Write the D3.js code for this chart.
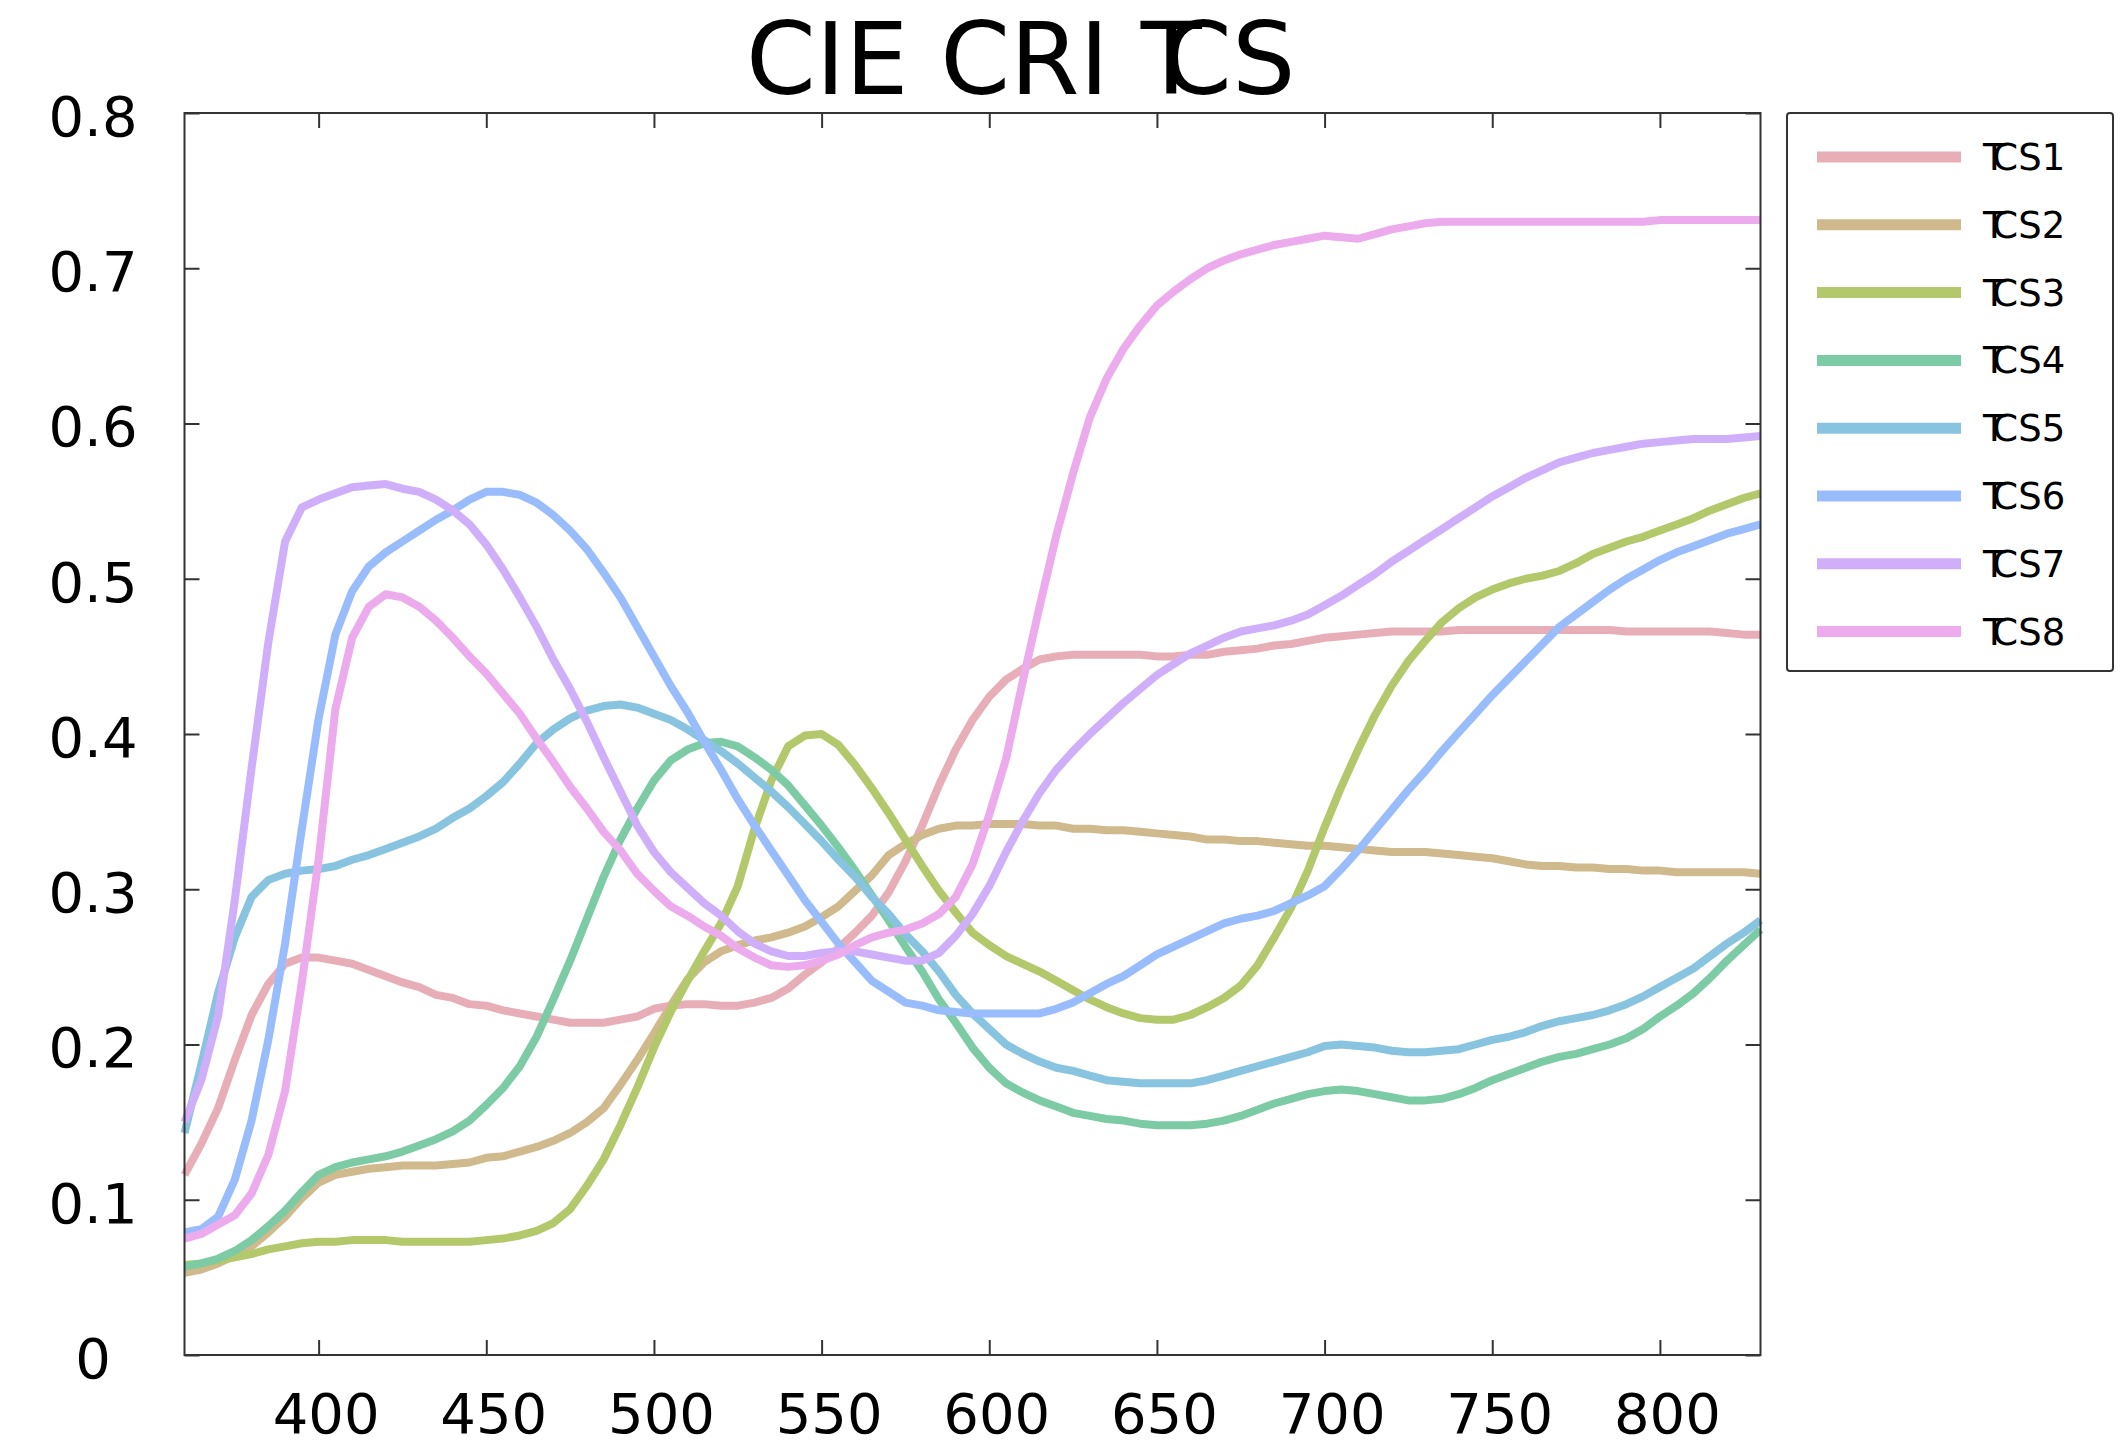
<!DOCTYPE html>
<html lang="en">
<head>
	<meta charset="UTF-8">
	<title>CIE CRI TCS</title>
	<script src="https://cdn.jsdelivr.net/npm/d3@7"></script>
	<style>
		body { margin:0; background:#fff; }
		svg { display:block; font-family:"DejaVu Sans", sans-serif; }
	</style>
</head>
<body>
<svg width="2121" height="1441"></svg>
<script>
// wavelength grid (nm), 5 nm steps
var wavelengths = d3.range(360, 831, 5);

// spectral reflectance of the test colour samples
var tcs1 = [0.116,0.136,0.159,0.190,0.219,0.239,0.252,0.256,0.256,
	0.254,0.252,0.248,0.244,0.240,0.237,0.232,0.230,0.226,0.225,
	0.222,0.220,0.218,0.216,0.214,0.214,0.214,0.216,0.218,0.223,
	0.225,0.226,0.226,0.225,0.225,0.227,0.230,0.236,0.245,0.253,
	0.262,0.272,0.283,0.298,0.318,0.341,0.367,0.390,0.409,0.424,
	0.435,0.442,0.448,0.450,0.451,0.451,0.451,0.451,0.451,0.450,
	0.450,0.451,0.451,0.453,0.454,0.455,0.457,0.458,0.460,0.462,
	0.463,0.464,0.465,0.466,0.466,0.466,0.466,0.467,0.467,0.467,
	0.467,0.467,0.467,0.467,0.467,0.467,0.467,0.466,0.466,0.466,
	0.466,0.466,0.466,0.465,0.464,0.464];
var tcs2 = [0.053,0.055,0.059,0.064,0.070,0.079,0.089,0.101,0.111,
	0.116,0.118,0.120,0.121,0.122,0.122,0.122,0.123,0.124,0.127,
	0.128,0.131,0.134,0.138,0.143,0.150,0.159,0.174,0.190,0.207,
	0.225,0.242,0.253,0.260,0.264,0.267,0.269,0.272,0.276,0.282,
	0.289,0.299,0.309,0.322,0.329,0.335,0.339,0.341,0.341,0.342,
	0.342,0.342,0.341,0.341,0.339,0.339,0.338,0.338,0.337,0.336,
	0.335,0.334,0.332,0.332,0.331,0.331,0.330,0.329,0.328,0.328,
	0.327,0.326,0.325,0.324,0.324,0.324,0.323,0.322,0.321,0.320,
	0.318,0.316,0.315,0.315,0.314,0.314,0.313,0.313,0.312,0.312,
	0.311,0.311,0.311,0.311,0.311,0.310];
var tcs3 = [0.058,0.059,0.061,0.063,0.065,0.068,0.070,0.072,0.073,
	0.073,0.074,0.074,0.074,0.073,0.073,0.073,0.073,0.073,0.074,
	0.075,0.077,0.080,0.085,0.094,0.109,0.126,0.148,0.172,0.198,
	0.221,0.241,0.260,0.278,0.302,0.339,0.370,0.392,0.399,0.400,
	0.393,0.380,0.365,0.349,0.332,0.315,0.299,0.285,0.272,0.264,
	0.257,0.252,0.247,0.241,0.235,0.229,0.224,0.220,0.217,0.216,
	0.216,0.219,0.224,0.230,0.238,0.251,0.269,0.288,0.312,0.340,
	0.366,0.390,0.412,0.431,0.447,0.460,0.472,0.481,0.488,0.493,
	0.497,0.500,0.502,0.505,0.510,0.516,0.520,0.524,0.527,0.531,
	0.535,0.539,0.544,0.548,0.552,0.555];
var tcs4 = [0.057,0.059,0.062,0.067,0.074,0.083,0.093,0.105,0.116,
	0.121,0.124,0.126,0.128,0.131,0.135,0.139,0.144,0.151,0.161,
	0.172,0.186,0.205,0.229,0.254,0.281,0.308,0.332,0.352,0.370,
	0.383,0.390,0.394,0.395,0.392,0.385,0.377,0.367,0.354,0.341,
	0.327,0.312,0.296,0.280,0.263,0.247,0.229,0.214,0.198,0.185,
	0.175,0.169,0.164,0.160,0.156,0.154,0.152,0.151,0.149,0.148,
	0.148,0.148,0.149,0.151,0.154,0.158,0.162,0.165,0.168,0.170,
	0.171,0.170,0.168,0.166,0.164,0.164,0.165,0.168,0.172,0.177,
	0.181,0.185,0.189,0.192,0.194,0.197,0.200,0.204,0.210,0.218,
	0.225,0.233,0.243,0.254,0.264,0.274];
var tcs5 = [0.143,0.187,0.233,0.269,0.295,0.306,0.310,0.312,0.313,
	0.315,0.319,0.322,0.326,0.330,0.334,0.339,0.346,0.352,0.360,
	0.369,0.381,0.394,0.403,0.410,0.415,0.418,0.419,0.417,0.413,
	0.409,0.403,0.396,0.389,0.381,0.372,0.363,0.353,0.342,0.331,
	0.319,0.308,0.295,0.284,0.271,0.260,0.247,0.232,0.220,0.210,
	0.200,0.194,0.189,0.185,0.183,0.180,0.177,0.176,0.175,0.175,
	0.175,0.175,0.177,0.180,0.183,0.186,0.189,0.192,0.195,0.199,
	0.200,0.199,0.198,0.196,0.195,0.195,0.196,0.197,0.200,0.203,
	0.205,0.208,0.212,0.215,0.217,0.219,0.222,0.226,0.231,0.237,
	0.243,0.249,0.257,0.265,0.272,0.280];
var tcs6 = [0.079,0.081,0.089,0.113,0.151,0.203,0.265,0.339,0.410,
	0.464,0.492,0.508,0.517,0.524,0.531,0.538,0.544,0.551,0.556,
	0.556,0.554,0.549,0.541,0.531,0.519,0.504,0.488,0.469,0.450,
	0.431,0.414,0.395,0.377,0.358,0.341,0.325,0.309,0.293,0.279,
	0.265,0.253,0.241,0.234,0.227,0.225,0.222,0.221,0.220,0.220,
	0.220,0.220,0.220,0.223,0.227,0.233,0.239,0.244,0.251,0.258,
	0.263,0.268,0.273,0.278,0.281,0.283,0.286,0.291,0.296,0.302,
	0.313,0.325,0.338,0.351,0.364,0.376,0.389,0.401,0.413,0.425,
	0.436,0.447,0.458,0.469,0.477,0.485,0.493,0.500,0.506,0.512,
	0.517,0.521,0.525,0.529,0.532,0.535];
var tcs7 = [0.150,0.177,0.218,0.293,0.378,0.459,0.524,0.546,0.551,
	0.555,0.559,0.560,0.561,0.558,0.556,0.551,0.544,0.535,0.522,
	0.506,0.488,0.469,0.448,0.429,0.408,0.385,0.363,0.341,0.324,
	0.311,0.301,0.291,0.283,0.273,0.265,0.260,0.257,0.257,0.259,
	0.260,0.260,0.258,0.256,0.254,0.254,0.259,0.270,0.284,0.302,
	0.324,0.344,0.362,0.377,0.389,0.400,0.410,0.420,0.429,0.438,
	0.445,0.452,0.457,0.462,0.466,0.468,0.470,0.473,0.477,0.483,
	0.489,0.496,0.503,0.511,0.518,0.525,0.532,0.539,0.546,0.553,
	0.559,0.565,0.570,0.575,0.578,0.581,0.583,0.585,0.587,0.588,
	0.589,0.590,0.590,0.590,0.591,0.592];
var tcs8 = [0.075,0.078,0.084,0.090,0.104,0.129,0.170,0.240,0.319,
	0.416,0.462,0.482,0.490,0.488,0.482,0.473,0.462,0.450,0.439,
	0.426,0.413,0.397,0.382,0.366,0.352,0.337,0.325,0.310,0.299,
	0.289,0.283,0.276,0.270,0.262,0.256,0.251,0.250,0.251,0.254,
	0.258,0.264,0.269,0.272,0.274,0.278,0.284,0.295,0.316,0.348,
	0.384,0.434,0.482,0.528,0.568,0.604,0.629,0.648,0.663,0.676,
	0.685,0.693,0.700,0.705,0.709,0.712,0.715,0.717,0.719,0.721,
	0.720,0.719,0.722,0.725,0.727,0.729,0.730,0.730,0.730,0.730,
	0.730,0.730,0.730,0.730,0.730,0.730,0.730,0.730,0.730,0.731,
	0.731,0.731,0.731,0.731,0.731,0.731];

var names = ["TCS1","TCS2","TCS3","TCS4","TCS5","TCS6","TCS7","TCS8"];
var colors = ["#e8aeb8","#cfb98d","#b3c76b","#7dcba5","#88c4df","#99bcfc","#d0affa","#ecabed"];
var xTicks = [400,450,500,550,600,650,700,750,800];
var yTicks = [0,0.1,0.2,0.3,0.4,0.5,0.6,0.7,0.8];
var yTickLabels = ["0","0.1","0.2","0.3","0.4","0.5","0.6","0.7","0.8"];

var series = [tcs1,tcs2,tcs3,tcs4,tcs5,tcs6,tcs7,tcs8];

var svg = d3.select("svg");
svg.append("rect").attr("width",2121).attr("height",1441).attr("fill","#fff");

// plot box
var box = {left:184.5, right:1760.5, top:113, bottom:1355};

var x = d3.scaleLinear().domain([360,830]).range([box.left,box.right]);
var y = d3.scaleLinear().domain([0,0.8]).range([box.bottom,box.top]);

// axes, ticks point inward
var tickLen = 15;
var gx = svg.append("g").attr("transform","translate(0,"+box.bottom+")")
	.call(d3.axisBottom(x).tickValues(xTicks).tickSizeInner(-tickLen).tickSizeOuter(0).tickPadding(38));
var gy = svg.append("g").attr("transform","translate("+box.left+",0)")
	.call(d3.axisLeft(y).tickValues(yTicks).tickSizeInner(-tickLen).tickSizeOuter(0)
		.tickFormat(function(d,i) { return yTickLabels[i]; }));
var gt = svg.append("g").attr("transform","translate(0,"+box.top+")")
	.call(d3.axisTop(x).tickValues(xTicks).tickSizeInner(-tickLen).tickSizeOuter(0).tickFormat(""));
var gr = svg.append("g").attr("transform","translate("+box.right+",0)")
	.call(d3.axisRight(y).tickValues(yTicks).tickSizeInner(-tickLen).tickSizeOuter(0).tickFormat(""));

[gx,gy,gt,gr].forEach(function(g) {
	g.select(".domain").remove();
	g.selectAll(".tick line").attr("stroke","#333").attr("stroke-width",2);
	g.selectAll("text").attr("font-family","DejaVu Sans").attr("font-size",56).attr("fill","#000");
});
// labels sit a little right of their ticks in the original
gx.selectAll("text").attr("dx",7);
// y labels are centred in their column
gy.selectAll("text").attr("x",93-box.left).attr("text-anchor","middle").attr("dy","0.40em");

// curves
var line = d3.line()
	.x(function(d,i) { return x(wavelengths[i]); })
	.y(function(d) { return y(d); });

svg.append("g").selectAll("path")
	.data(series)
	.enter().append("path")
	.attr("d",line)
	.attr("fill","none")
	.attr("stroke",function(d,i) { return colors[i]; })
	.attr("stroke-width",8)
	.attr("stroke-linejoin","round");

svg.append("rect")
	.attr("x",box.left).attr("y",box.top)
	.attr("width",box.right-box.left).attr("height",box.bottom-box.top)
	.attr("fill","none").attr("stroke","#333").attr("stroke-width",2);

// title (the T and C overlap in the original)
var title = svg.append("text")
	.attr("x",746).attr("y",94)
	.attr("font-size",100).attr("fill","#000")
	.text("CIE CRI T");
title.append("tspan").attr("dx","-0.34em").text("CS");

// legend
var lg = svg.append("g");
lg.append("rect")
	.attr("x",1787).attr("y",113).attr("width",326).attr("height",558).attr("rx",3)
	.attr("fill","#fff").attr("stroke","#333").attr("stroke-width",2);

var rows = lg.selectAll("g.row").data(names).enter().append("g")
	.attr("class","row")
	.attr("transform",function(d,i) { return "translate(0,"+(157+i*67.8)+")"; });
rows.append("line")
	.attr("x1",1817).attr("x2",1961)
	.attr("stroke",function(d,i) { return colors[i]; })
	.attr("stroke-width",11);
var lt = rows.append("text")
	.attr("x",1983).attr("y",13)
	.attr("font-size",37).attr("fill","#000")
	.text("T");
lt.append("tspan").attr("dx","-0.3em").text(function(d) { return d.slice(1); });
</script>
</body>
</html>
